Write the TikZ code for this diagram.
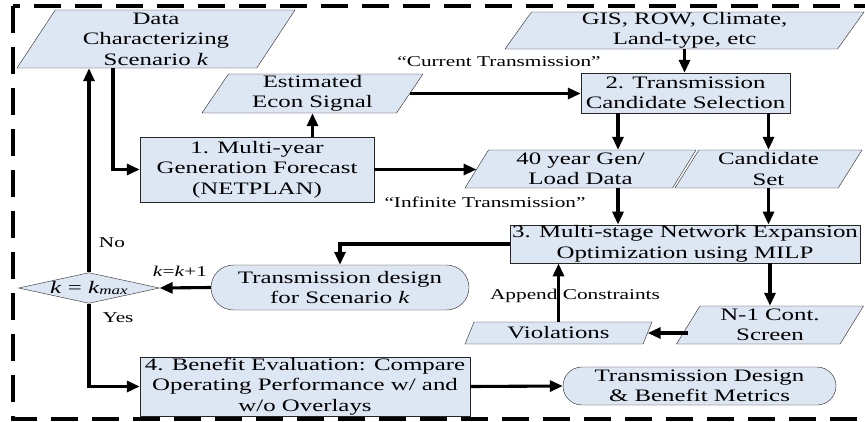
\documentclass[tikz,border=0pt]{standalone}
\usepackage{fontspec}
\setmainfont[FakeStretch=1.42]{Liberation Serif}
\usetikzlibrary{shapes.geometric,shapes.misc,arrows.meta}
\definecolor{boxfill}{RGB}{221,230,243}

\begin{document}
\begin{tikzpicture}[x=1pt,y=-1pt,
    txt/.style={font=\fontsize{17.5}{20.5}\selectfont},
    proc/.style={txt, draw=black!85, fill=boxfill, rectangle, align=center, inner sep=1pt},
    iobox/.style={txt, draw=black!85, fill=boxfill, trapezium, trapezium left angle=54,
      trapezium right angle=126, trapezium stretches body, align=center, inner sep=0pt},
    term/.style={txt, draw=black!85, fill=boxfill, rounded rectangle, align=center, inner sep=1pt},
    decide/.style={draw=black!85, fill=boxfill, diamond, aspect=4.6, inner sep=0pt},
    arr/.style={line width=3.1pt, -{Triangle[length=13pt,width=11pt]}},
    lbl/.style={font=\fontsize{15}{18}\selectfont, inner sep=0pt}]
    \useasboundingbox (0,0) rectangle (865,421);

    % Outer dashed frame
    \draw[line width=3.5pt, dash pattern=on 27pt off 14pt] (13,6) rectangle (895,419);

    % Data inputs
    \node[iobox, minimum width=278pt, minimum height=58pt] (data) at (156,39)
      {Data\\Characterizing\\Scenario \textit{k}};
    \node[iobox, minimum width=221pt, minimum height=39pt] (econ) at (312.5,93.5)
      {Estimated\\Econ Signal};
    \node[iobox, minimum width=359pt, minimum height=37pt] (gis) at (684.5,30.5)
      {GIS, ROW, Climate,\\Land-type, etc};
    \node[iobox, minimum width=231pt, minimum height=38pt] (gen40) at (580.5,169)
      {40 year Gen/\\Load Data};
    \node[iobox, minimum width=187pt, minimum height=38pt] (cand) at (768.5,169)
      {Candidate\\Set};
    \node[iobox, minimum width=187pt, minimum height=38pt] (n1) at (770,325)
      {N-1 Cont.\\Screen};
    \node[iobox, minimum width=187pt, minimum height=22pt] (viol) at (558.5,333)
      {Violations};

    % Process steps
    \node[proc, minimum width=234pt, minimum height=65pt] (box1) at (257,169.5)
      {1. Multi-year\\Generation Forecast\\(NETPLAN)};
    \node[proc, minimum width=209pt, minimum height=40pt] (box2) at (685.5,93)
      {2. Transmission\\Candidate Selection};
    \node[proc, minimum width=350pt, minimum height=36pt] (box3) at (685,244)
      {3. Multi-stage Network Expansion\\Optimization using MILP};
    \node[proc, minimum width=330pt, minimum height=53pt] (box4) at (305,386.5)
      {4. Benefit Evaluation: Compare\\Operating Performance w/ and\\w/o Overlays};

    % Results and decision
    \node[term, minimum width=260pt, minimum height=45pt] (design) at (340,287.5)
      {Transmission design\\for Scenario \textit{k}};
    \node[term, minimum width=275pt, minimum height=38pt] (final) at (699.5,386)
      {Transmission Design\\\& Benefit Metrics};
    \node[decide, minimum width=138pt, minimum height=30pt] (dec) at (89,288)
      {\fontsize{17.5}{20}\selectfont\textit{k} = \textit{k}\raisebox{-1.5pt}{\fontsize{12}{12}\selectfont\itshape max}};

    % Labels
    \node[lbl] (lcur) at (499,62) {“Current Transmission”};
    \node[lbl] (linf) at (485,202) {“Infinite Transmission”};
    \node[lbl] (lno) at (112,243) {No};
    \node[lbl] (lyes) at (118,318) {Yes};
    \node[lbl] (linc) at (180,271) {\textit{k}=\textit{k}+1};
    \node[lbl] (lapp) at (575,296) {Append Constraints};

    % Connectors
    \coordinate (gtap) at ([xshift=37.5pt]gen40.north);
    \draw[arr] ([xshift=-43pt]data.south) |- (box1.west);
    \draw[arr] (econ.south |- box1.north) -- (econ.south);
    \draw[arr] (econ.east) -- (econ.east -| box2.west);
    \draw[arr] (box1.east) -- (box1.east -| gen40.west);
    \draw[arr] (gis.south) -- (gis.south |- box2.north);
    \draw[arr] (gtap |- box2.south) -- (gtap);
    \draw[arr] (cand.north |- box2.south) -- (cand.north);
    \draw[arr] (gtap |- gen40.south) -- (gtap |- box3.north);
    \draw[arr] (cand.south) -- (cand.south |- box3.north);
    \draw[arr] (n1.north |- box3.south) -- (n1.north);
    \draw[arr] (n1.west |- viol.east) -- (viol.east);
    \draw[arr] (viol.north) -- (viol.north |- box3.south);
    \draw[arr] (box3.west) -| (design.north);
    \draw[arr] (design.west) -- (dec.east);
    \draw[arr] (dec.north) -- (dec.north |- data.south);
    \draw[arr] (dec.south) |- (box4.west);
    \draw[arr] (box4.east) -- (final.west);
  \end{tikzpicture}
\end{document}
